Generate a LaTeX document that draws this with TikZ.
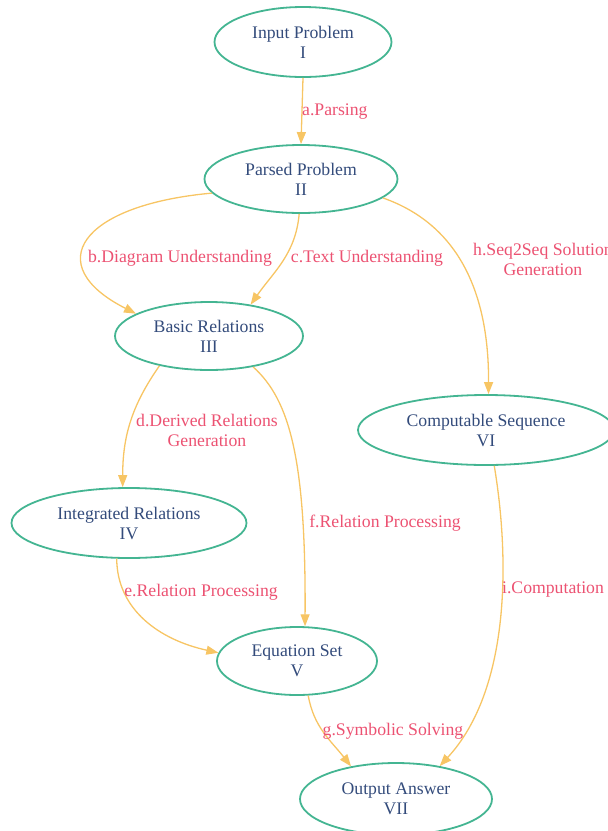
\documentclass[tikz,border=0pt]{standalone}
\usepackage{fontspec}
\setmainfont{Liberation Serif}
\usetikzlibrary{arrows.meta,shapes.geometric}
\definecolor{ringgreen}{HTML}{44B592}
\definecolor{flowgold}{HTML}{F7C564}
\definecolor{tagpink}{HTML}{EC5272}
\definecolor{stagenavy}{HTML}{334B7B}
\begin{document}
\begin{tikzpicture}[x=1pt,y=1pt,
    stage/.style={ellipse, draw=ringgreen, line width=1.8pt, text=stagenavy,
        align=center, inner sep=0pt, font=\fontsize{17.7}{20}\selectfont},
    flow/.style={draw=flowgold, line width=1.3pt,
        -{Triangle[length=12pt,width=9pt,fill=flowgold]}},
    tag/.style={text=tagpink, align=center, inner sep=0pt,
        font=\fontsize{17.7}{20}\selectfont}]
    \useasboundingbox (0,0) rectangle (608,-831);

    % stages
    \node [stage, minimum width=177, minimum height=70] (input) at (303,-42) {Input Problem\\I};
    \node [stage, minimum width=193, minimum height=68] (parsed) at (301,-179) {Parsed Problem\\II};
    \node [stage, minimum width=188, minimum height=68] (basic) at (209,-336) {Basic Relations\\III};
    \node [stage, minimum width=256, minimum height=70] (compseq) at (486,-430) {Computable Sequence\\VI};
    \node [stage, minimum width=235, minimum height=70] (integrated) at (129,-523) {Integrated Relations\\IV};
    \node [stage, minimum width=160, minimum height=68] (eqset) at (297,-661) {Equation Set\\V};
    \node [stage, minimum width=192, minimum height=72] (output) at (396,-799) {Output Answer\\VII};

    % connectors
    \draw [flow] (input.south) -- (parsed.north);
    \draw [flow] (parsed.189) .. controls (80,-205) and (40,-265) .. (basic.163);
    \draw [flow] (parsed.267) to [out=-95, in=55] (basic.37);
    \draw [flow] (parsed.-13) .. controls (460,-225) and (489,-295) .. (compseq.86);
    \draw [flow] (basic.211) to [out=-125, in=90] (integrated.100);
    \draw [flow] (basic.-35) .. controls (290,-400) and (306,-460) .. (eqset.77);
    \draw [flow] (integrated.-109) .. controls (117,-610) and (160,-640) .. (eqset.174);
    \draw [flow] (eqset.-72) to [out=-80, in=128] (output.144);
    \draw [flow] (compseq.-77) .. controls (510,-560) and (510,-690) .. (output.37);

    % labels
    \node [tag, anchor=west] (tagA) at (302,-112) {a.Parsing};
    \node [tag] (tagB) at (180,-258) {b.Diagram Understanding};
    \node [tag] (tagC) at (367,-258) {c.Text Understanding};
    \node [tag] (tagH) at (543,-259) {h.Seq2Seq Solution\\Generation};
    \node [tag] (tagD) at (207,-430) {d.Derived Relations\\Generation};
    \node [tag] (tagE) at (201,-592) {e.Relation Processing};
    \node [tag] (tagF) at (385,-523) {f.Relation Processing};
    \node [tag] (tagG) at (393,-731) {g.Symbolic Solving};
    \node [tag] (tagI) at (553,-590) {i.Computation};
\end{tikzpicture}
\end{document}
